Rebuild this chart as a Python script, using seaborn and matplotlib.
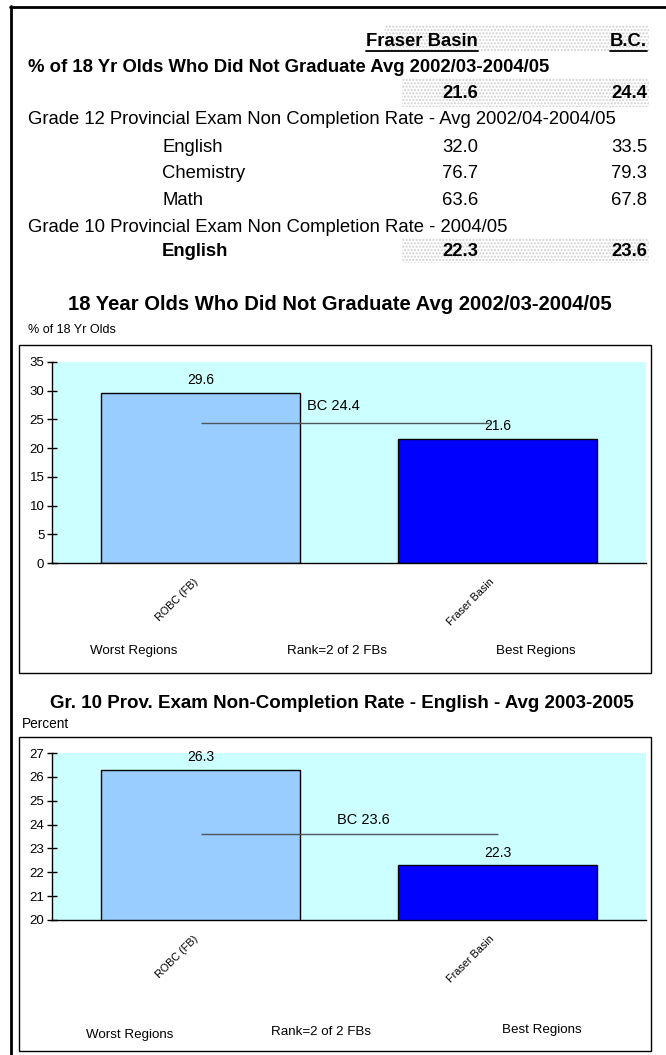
import numpy as np
import pandas as pd
import seaborn as sns
import matplotlib.pyplot as plt
import matplotlib.transforms as mtransforms
from matplotlib.patches import Rectangle
from matplotlib.lines import Line2D

# chart data
regions = ["ROBC (FB)", "Fraser Basin"]
bar_colors = ["#99CCFF", "#0000FF"]
not_grad = [29.6, 21.6]
bc_not_grad = 24.4
gr10_english = [26.3, 22.3]
bc_gr10_english = 23.6

# table data
table_cols = ["Fraser Basin", "B.C."]
grad_row = [21.6, 24.4]
gr12_subjects = ["English", "Chemistry", "Math"]
gr12_fb = [32.0, 76.7, 63.6]
gr12_bc = [33.5, 79.3, 67.8]
gr10_row = [22.3, 23.6]

W, H = 666, 1055
sns.set_style("white")
plt.rcParams["font.family"] = ["Liberation Sans", "DejaVu Sans"]
plt.rcParams["text.color"] = "black"
plt.rcParams["xtick.color"] = "black"
plt.rcParams["ytick.color"] = "black"
plt.rcParams["axes.labelcolor"] = "black"

fig = plt.figure(figsize=(W / 100, H / 100), dpi=100)


def fx(x):
    return x / W


def fy(y):
    return 1 - y / H


def box(x0, y0, x1, y1, **kw):
    fig.patches.append(Rectangle((fx(x0), fy(y1)), fx(x1) - fx(x0), fy(y0) - fy(y1),
                                 transform=fig.transFigure, **kw))


def shade(x0, y0, x1, y1):
    box(x0, y0, x1, y1, facecolor="white", edgecolor="#d0d0d0", hatch=".....", lw=0)


def txt(x, y, s, ha="left", bold=False, size=13.3):
    return fig.text(fx(x), fy(y), s, ha=ha, va="center", size=size,
                    weight="bold" if bold else "normal")


# outer frame (top and left only)
fig.add_artist(Line2D([fx(10), fx(666)], [fy(7), fy(7)], color="black", lw=2, transform=fig.transFigure))
fig.add_artist(Line2D([fx(11), fx(11)], [fy(6), fy(1055)], color="black", lw=2, transform=fig.transFigure))

# ---- table ----
shade(385, 25, 649, 52)
shade(402, 78, 649, 107)
shade(402, 238, 649, 263)

h1 = txt(478, 41, table_cols[0], ha="right", bold=True)
h2 = txt(647, 41, table_cols[1], ha="right", bold=True)
txt(28, 68, "% of 18 Yr Olds Who Did Not Graduate Avg 2002/03-2004/05", bold=True)
txt(478, 93, f"{grad_row[0]:.1f}", ha="right", bold=True)
txt(647, 93, f"{grad_row[1]:.1f}", ha="right", bold=True)
txt(28, 120, "Grade 12 Provincial Exam Non Completion Rate - Avg 2002/04-2004/05")
for i, subj in enumerate(gr12_subjects):
    y = 147 + i * 26.7
    txt(162, y, subj)
    txt(478, y, f"{gr12_fb[i]:.1f}", ha="right")
    txt(647, y, f"{gr12_bc[i]:.1f}", ha="right")
txt(28, 227, "Grade 10 Provincial Exam Non Completion Rate - 2004/05")
txt(162, 252, "English", bold=True)
txt(478, 252, f"{gr10_row[0]:.1f}", ha="right", bold=True)
txt(647, 252, f"{gr10_row[1]:.1f}", ha="right", bold=True)

# underline headers
fig.canvas.draw()
rend = fig.canvas.get_renderer()
for t in (h1, h2):
    bb = t.get_window_extent(rend)
    fig.add_artist(Line2D([bb.x0 / W, bb.x1 / W], [(bb.y0 - 1) / H] * 2,
                          color="black", lw=1.3, transform=fig.transFigure))


# ---- charts ----
def draw_chart(ax, values, bc, ymin, ymax, bc_end, bc_text_x, bc_dy):
    sns.barplot(x=regions, y=values, hue=regions, palette=bar_colors, saturation=1,
                width=0.667, edgecolor="black", linewidth=1, legend=False, ax=ax)
    ax.set_facecolor("#CCFFFF")
    ax.set_xlim(-0.5, 1.5)
    ax.set_ylim(ymin, ymax)
    step = 5 if ymax - ymin > 10 else 1
    ax.set_yticks(np.arange(ymin, ymax + 0.1, step))
    ax.set_xticks([0, 1])
    ax.set_xticklabels(regions, rotation=45, ha="right", rotation_mode="anchor", fontsize=7.8)
    ax.set_xticks([-0.5, 0.5, 1.5], minor=True)
    ax.tick_params(axis="x", which="major", length=0, pad=10)
    ax.tick_params(axis="x", which="minor", length=4, width=1, direction="out", color="black")
    ax.tick_params(axis="y", length=7, width=1, direction="inout", color="black",
                   labelsize=9.5, pad=2, left=True)
    # nudge the slanted labels left, after tick_params (which resets transforms)
    shift = mtransforms.ScaledTranslation(-8 / 100, 0, fig.dpi_scale_trans)
    for lbl in ax.get_xticklabels():
        lbl.set_transform(lbl.get_transform() + shift)
    for s in ("top", "right"):
        ax.spines[s].set_visible(False)
    for s in ("left", "bottom"):
        ax.spines[s].set_color("black")
        ax.spines[s].set_linewidth(1)
    ax.set_xlabel("")
    ax.set_ylabel("")
    for c in ax.containers:
        ax.bar_label(c, fmt="%.1f", padding=4, fontsize=10)
    ax.hlines(bc, 0, bc_end, color="#4d5659", lw=1)
    ax.annotate(f"BC {bc}", xy=(bc_text_x, bc), xytext=(0, bc_dy), textcoords="offset points",
                ha="left", va="center", fontsize=10.5)


# chart 1
box(19, 345, 651, 673, fill=False, edgecolor="black", lw=1)
txt(340, 305, "18 Year Olds Who Did Not Graduate Avg 2002/03-2004/05", ha="center", bold=True, size=14.6)
txt(28, 330, "% of 18 Yr Olds", size=9)
ax1 = fig.add_axes([fx(52), fy(563), fx(646) - fx(52), fy(362) - fy(563)])
draw_chart(ax1, not_grad, bc_not_grad, 0, 35, 0.97, 0.36, 12)
txt(134, 651, "Worst Regions", ha="center", size=9.6)
txt(337, 651, "Rank=2 of 2 FBs", ha="center", size=9.6)
txt(536, 651, "Best Regions", ha="center", size=9.6)

# chart 2
box(19, 737, 651, 1051, fill=False, edgecolor="black", lw=1)
txt(342, 703, "Gr. 10 Prov. Exam Non-Completion Rate - English - Avg 2003-2005", ha="center", bold=True, size=13.5)
txt(22, 724, "Percent", size=9.8)
ax2 = fig.add_axes([fx(52), fy(920), fx(646) - fx(52), fy(753) - fy(920)])
draw_chart(ax2, gr10_english, bc_gr10_english, 20, 27, 1.0, 0.46, 10)
txt(130, 1035, "Worst Regions", ha="center", size=9.6)
txt(321, 1032, "Rank=2 of 2 FBs", ha="center", size=9.6)
txt(542, 1030, "Best Regions", ha="center", size=9.6)

fig.savefig("out.png", dpi=100)
